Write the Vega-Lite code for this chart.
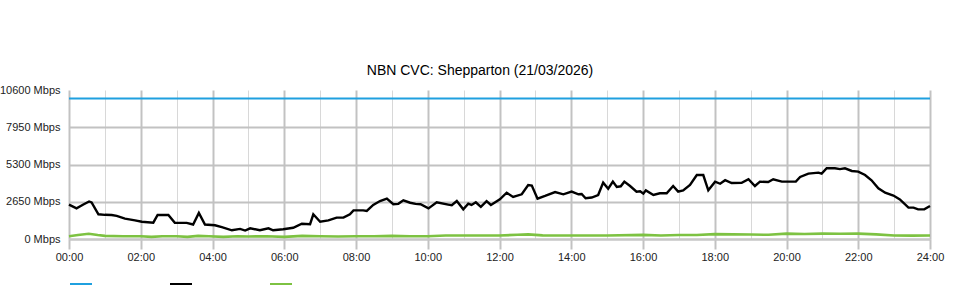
{
  "$schema": "https://vega.github.io/schema/vega-lite/v6.json",
  "width": 861,
  "height": 149,
  "autosize": {"type": "none"},
  "padding": {"left": 69, "top": 90, "right": 30, "bottom": 61},
  "background": "white",
  "config": {"view": {"stroke": null}, "font": "Liberation Sans"},
  "title": {"text": "NBN CVC: Shepparton (21/03/2026)", "fontSize": 14, "fontWeight": "normal", "font": "Liberation Sans", "color": "#000000", "offset": 6, "dx": -19.5},
  "datasets": {
    "cap": [{"t": 0, "v": 10000}, {"t": 24, "v": 10000}],
    "down": [
      {"t":0.00,"v":2450},{"t":0.21,"v":2180},{"t":0.40,"v":2450},{"t":0.56,"v":2670},{"t":0.63,"v":2600},{"t":0.82,"v":1760},{"t":1.00,"v":1720},{"t":1.19,"v":1710},{"t":1.33,"v":1640},{"t":1.56,"v":1450},{"t":1.84,"v":1330},{"t":2.03,"v":1230},{"t":2.35,"v":1160},{"t":2.47,"v":1710},{"t":2.77,"v":1710},{"t":2.95,"v":1160},{"t":3.28,"v":1150},{"t":3.46,"v":1030},{"t":3.62,"v":1850},{"t":3.79,"v":1030},{"t":4.07,"v":980},{"t":4.26,"v":840},{"t":4.54,"v":620},{"t":4.77,"v":720},{"t":4.91,"v":600},{"t":5.05,"v":760},{"t":5.32,"v":620},{"t":5.56,"v":760},{"t":5.69,"v":620},{"t":5.97,"v":690},{"t":6.25,"v":800},{"t":6.49,"v":1090},{"t":6.72,"v":1050},{"t":6.81,"v":1760},{"t":7.00,"v":1230},{"t":7.23,"v":1320},{"t":7.46,"v":1520},{"t":7.65,"v":1520},{"t":7.83,"v":1760},{"t":7.93,"v":2040},{"t":8.20,"v":2040},{"t":8.30,"v":2000},{"t":8.48,"v":2420},{"t":8.67,"v":2700},{"t":8.86,"v":2870},{"t":9.04,"v":2470},{"t":9.18,"v":2500},{"t":9.32,"v":2750},{"t":9.51,"v":2580},{"t":9.66,"v":2500},{"t":9.80,"v":2470},{"t":10.02,"v":2180},{"t":10.25,"v":2610},{"t":10.57,"v":2450},{"t":10.67,"v":2400},{"t":10.81,"v":2700},{"t":10.99,"v":2110},{"t":11.13,"v":2510},{"t":11.22,"v":2420},{"t":11.34,"v":2610},{"t":11.48,"v":2280},{"t":11.64,"v":2690},{"t":11.76,"v":2420},{"t":12.01,"v":2820},{"t":12.20,"v":3290},{"t":12.38,"v":2990},{"t":12.62,"v":3180},{"t":12.80,"v":3840},{"t":12.90,"v":3800},{"t":13.06,"v":2870},{"t":13.27,"v":3060},{"t":13.55,"v":3340},{"t":13.78,"v":3180},{"t":14.01,"v":3370},{"t":14.20,"v":3180},{"t":14.29,"v":3200},{"t":14.40,"v":2900},{"t":14.57,"v":2950},{"t":14.75,"v":3130},{"t":14.89,"v":4010},{"t":15.03,"v":3580},{"t":15.16,"v":4080},{"t":15.27,"v":3700},{"t":15.38,"v":3750},{"t":15.48,"v":4080},{"t":15.64,"v":3770},{"t":15.82,"v":3370},{"t":15.92,"v":3400},{"t":16.01,"v":3230},{"t":16.08,"v":3460},{"t":16.29,"v":3130},{"t":16.47,"v":3250},{"t":16.66,"v":3250},{"t":16.84,"v":3770},{"t":16.98,"v":3370},{"t":17.12,"v":3460},{"t":17.31,"v":3840},{"t":17.50,"v":4550},{"t":17.68,"v":4550},{"t":17.82,"v":3460},{"t":18.01,"v":4080},{"t":18.15,"v":3930},{"t":18.29,"v":4180},{"t":18.47,"v":3980},{"t":18.75,"v":4000},{"t":18.94,"v":4250},{"t":19.12,"v":3770},{"t":19.26,"v":4080},{"t":19.49,"v":4050},{"t":19.63,"v":4250},{"t":19.87,"v":4080},{"t":20.26,"v":4080},{"t":20.38,"v":4410},{"t":20.61,"v":4650},{"t":20.89,"v":4720},{"t":20.98,"v":4650},{"t":21.12,"v":5030},{"t":21.35,"v":5030},{"t":21.49,"v":4970},{"t":21.63,"v":5030},{"t":21.82,"v":4840},{"t":22.00,"v":4790},{"t":22.19,"v":4550},{"t":22.37,"v":4180},{"t":22.56,"v":3610},{"t":22.75,"v":3290},{"t":22.98,"v":3090},{"t":23.16,"v":2820},{"t":23.40,"v":2230},{"t":23.54,"v":2230},{"t":23.67,"v":2110},{"t":23.84,"v":2110},{"t":24.00,"v":2350}
    ],
    "up": [
      {"t":0,"v":200},{"t":0.25,"v":280},{"t":0.55,"v":370},{"t":0.8,"v":280},{"t":1.0,"v":220},{"t":1.5,"v":200},{"t":2.0,"v":200},{"t":2.3,"v":150},{"t":2.6,"v":200},{"t":3.0,"v":200},{"t":3.3,"v":150},{"t":3.6,"v":220},{"t":3.9,"v":200},{"t":4.3,"v":150},{"t":4.7,"v":200},{"t":5.0,"v":180},{"t":5.5,"v":200},{"t":6.0,"v":150},{"t":6.5,"v":220},{"t":7.0,"v":200},{"t":7.5,"v":180},{"t":8.0,"v":200},{"t":8.5,"v":200},{"t":9.0,"v":220},{"t":9.5,"v":200},{"t":10.0,"v":200},{"t":10.5,"v":250},{"t":11.0,"v":250},{"t":11.5,"v":250},{"t":12.0,"v":250},{"t":12.5,"v":300},{"t":12.8,"v":330},{"t":13.2,"v":260},{"t":14.0,"v":250},{"t":15.0,"v":250},{"t":16.0,"v":290},{"t":16.5,"v":250},{"t":17.0,"v":280},{"t":17.5,"v":280},{"t":18.0,"v":350},{"t":18.5,"v":330},{"t":19.0,"v":320},{"t":19.5,"v":300},{"t":20.0,"v":380},{"t":20.5,"v":360},{"t":21.0,"v":380},{"t":21.5,"v":370},{"t":22.0,"v":380},{"t":22.5,"v":330},{"t":23.0,"v":250},{"t":23.5,"v":240},{"t":24.0,"v":250}
    ]
  },
  "layer": [
    {"data": {"name": "cap"}, "transform": [{"calculate": "'Capacity'", "as": "s"}], "mark": {"type": "line", "strokeWidth": 2}, "encoding": {"x": {"field": "t", "type": "quantitative"}, "y": {"field": "v", "type": "quantitative"}, "color": {"field": "s", "type": "nominal"}}},
    {"data": {"name": "down"}, "transform": [{"calculate": "'Download'", "as": "s"}], "mark": {"type": "line", "strokeWidth": 2.4}, "encoding": {"x": {"field": "t", "type": "quantitative"}, "y": {"field": "v", "type": "quantitative"}, "color": {"field": "s", "type": "nominal"}}},
    {"data": {"name": "up"}, "transform": [{"calculate": "'Upload'", "as": "s"}], "mark": {"type": "line", "strokeWidth": 2.6}, "encoding": {"x": {"field": "t", "type": "quantitative"}, "y": {"field": "v", "type": "quantitative"}, "color": {"field": "s", "type": "nominal"}}}
  ],
  "resolve": {"scale": {"color": "shared"}},
  "encoding": {
    "x": {"field": "t", "type": "quantitative", "scale": {"domain": [0, 24], "nice": false, "zero": false},
      "axis": {"values": [0,1,2,3,4,5,6,7,8,9,10,11,12,13,14,15,16,17,18,19,20,21,22,23,24], "title": null,
        "labelExpr": "datum.value % 2 === 0 ? ((datum.value < 10 ? '0' : '') + datum.value + ':00') : ''",
        "labelOverlap": false, "labelFlush": false, "grid": true,
        "gridColor": {"condition": {"test": "datum.value % 2 === 0", "value": "#c2c2c2"}, "value": "#d8d8d8"},
        "gridWidth": {"condition": {"test": "datum.value % 2 === 0", "value": 2}, "value": 1},
        "domain": true, "domainColor": "#c8c8c8", "domainWidth": 2,
        "ticks": true, "tickSize": 10, "tickColor": "#c2c2c2", "tickWidth": 2,
        "tickOpacity": {"condition": {"test": "datum.value % 2 === 0", "value": 1}, "value": 0},
        "labelFontSize": 11, "labelColor": "#222222", "labelPadding": 2, "labelFont": "Liberation Sans"}},
    "y": {"field": "v", "type": "quantitative", "scale": {"domain": [0, 10600], "nice": false},
      "axis": {"values": [0, 2650, 5300, 7950, 10600], "title": null, "labelExpr": "datum.value + ' Mbps'",
        "domain": false, "ticks": false, "labelPadding": 9, "grid": true, "gridColor": "#c2c2c2", "gridWidth": 2,
        "gridOpacity": {"condition": {"test": "datum.value === 10600", "value": 0}, "value": 1},
        "labelFontSize": 11, "labelColor": "#222222", "labelFont": "Liberation Sans"}},
    "color": {"field": "s", "type": "nominal",
      "scale": {"domain": ["Capacity", "Download", "Upload"], "range": ["#1fa0df", "#000000", "#7dc242"]},
      "legend": {"orient": "bottom", "direction": "horizontal", "title": null, "labelExpr": "''",
        "symbolType": "stroke", "symbolSize": 484, "symbolStrokeWidth": 2, "columnPadding": 70, "labelOffset": 0, "offset": 10, "padding": 0}}
  }
}
